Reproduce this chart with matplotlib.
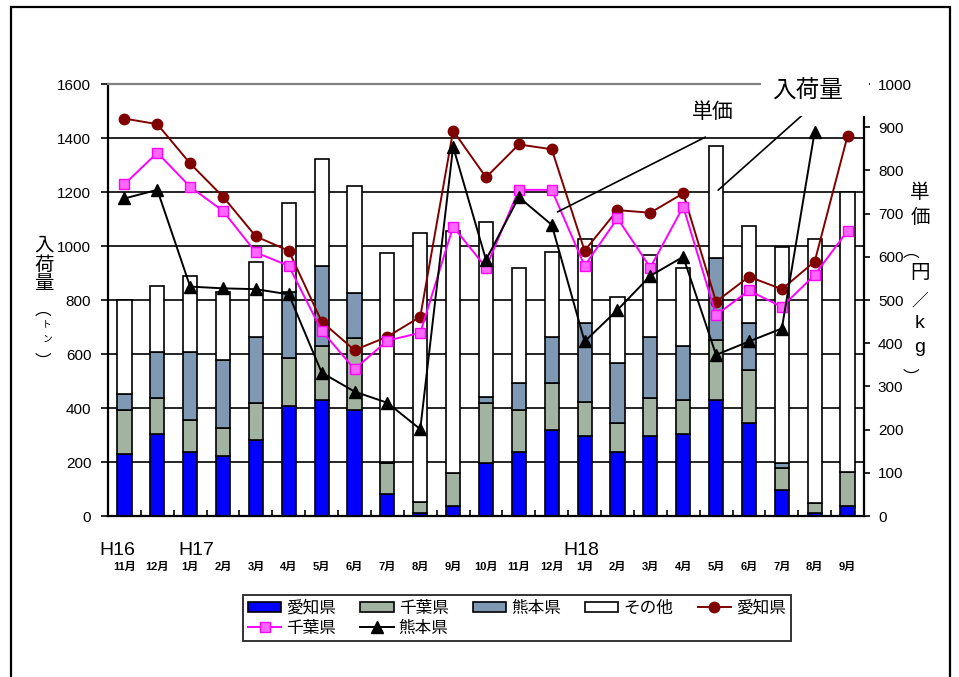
import numpy as np
import matplotlib
matplotlib.use('Agg')
import matplotlib.pyplot as plt
from matplotlib.patches import Rectangle

plt.rcParams['font.family'] = ['Liberation Sans', 'Noto Sans CJK JP', 'DejaVu Sans']

# months H16.11 - H18.9
months = ['11月', '12月', '1月', '2月', '3月', '4月', '5月', '6月', '7月', '8月', '9月',
          '10月', '11月', '12月', '1月', '2月', '3月', '4月', '5月', '6月', '7月', '8月', '9月']
years = ['H16', 'H17', 'H18']
year_pos = [-0.23, 2.18, 13.89]

# 入荷量 (トン)
aichi_q = [230, 304, 236, 222, 281, 407, 430, 393, 81, 10, 38,
           195, 236, 319, 298, 236, 298, 304, 430, 343, 96, 10, 38]
chiba_q = [163, 132, 120, 105, 136, 179, 201, 268, 117, 43, 120,
           222, 157, 172, 125, 107, 140, 126, 222, 198, 81, 37, 126]
kuma_q = [59, 173, 253, 251, 245, 245, 296, 164, 2, 0, 0,
          23, 98, 171, 290, 222, 224, 201, 305, 172, 18, 0, 0]
other_q = [348, 243, 281, 252, 280, 327, 394, 398, 773, 994, 898,
           650, 429, 317, 312, 245, 305, 289, 415, 362, 800, 978, 1037]

# 単価 (円/kg)
aichi_p = [920, 907, 816, 739, 647, 614, 450, 384, 415, 461, 892,
           784, 860, 849, 614, 708, 702, 747, 496, 554, 525, 589, 880]
chiba_p = [768, 841, 762, 706, 610, 579, 429, 340, 406, 424, 670,
           575, 755, 755, 579, 689, 575, 716, 465, 522, 484, 558, 660]
kuma_p = [735, 755, 531, 527, 525, 513, 332, 288, 262, 201, 855,
          593, 738, 674, 404, 477, 556, 600, 373, 404, 434, 890, np.nan]

x = np.arange(len(months))

fig = plt.figure(figsize=(9.59, 6.77), dpi=100)
ax = fig.add_axes([108/959, 1-516/677, 756/959, 432/677])
ax2 = ax.twinx()
ax.set_zorder(1)
ax2.set_zorder(2)
ax.patch.set_visible(False)

# gridlines (left axis)
for v in range(200, 1600, 200):
    ax.axhline(v, color='black', lw=1.2, zorder=0)

w = 0.43
ec = 'black'
b1 = ax.bar(x, aichi_q, w, color='#0000FF', edgecolor=ec, lw=1.2, zorder=2)
bot = np.array(aichi_q)
b2 = ax.bar(x, chiba_q, w, bottom=bot, color='#A3B3A1', edgecolor=ec, lw=1.2, zorder=2)
bot = bot + np.array(chiba_q)
b3 = ax.bar(x, kuma_q, w, bottom=bot, color='#7F98B3', edgecolor=ec, lw=1.2, zorder=2)
bot = bot + np.array(kuma_q)
b4 = ax.bar(x, other_q, w, bottom=bot, color='white', edgecolor=ec, lw=1.2, zorder=2)

l1, = ax2.plot(x, aichi_p, color='#800000', lw=1.4, marker='o', ms=7.5,
               mfc='#800000', mec='#800000')
l2, = ax2.plot(x, chiba_p, color='#FF00FF', lw=1.4, marker='s', ms=7.5,
               mfc='#FF66FF', mec='#FF00FF')
l3, = ax2.plot(x, kuma_p, color='black', lw=1.4, marker='^', ms=8,
               mfc='black', mec='black')

ax.set_xlim(-0.5, len(months) - 0.5)
ax.set_ylim(0, 1600)
ax2.set_ylim(0, 1000)
ax.set_yticks(range(0, 1601, 200))
ax2.set_yticks(range(0, 1001, 100))
ax.tick_params(axis='y', direction='out', length=5, width=1.2, labelsize=11, pad=7)
ax2.tick_params(axis='y', direction='out', length=4, width=1.2, labelsize=11, pad=6)

ax.set_xticks(x)
ax.set_xticklabels([])
ax.tick_params(axis='x', which='major', length=0)
ax.set_xticks(np.arange(-0.5, len(months)), minor=True)
ax.tick_params(axis='x', which='minor', direction='in', length=4, width=1.2)
ax2.tick_params(axis='x', length=0)

for s in ['left', 'bottom']:
    ax.spines[s].set_linewidth(1.6)
ax.spines['top'].set_color('#808080')
ax.spines['top'].set_linewidth(1.6)
ax.spines['right'].set_visible(False)
ax2.spines['right'].set_linewidth(1.6)
ax2.spines['top'].set_visible(False)
ax2.spines['left'].set_visible(False)
ax2.spines['bottom'].set_visible(False)

# month labels and year labels
for i, m in enumerate(months):
    ax.text(i, -0.118, m, transform=ax.get_xaxis_transform(), ha='center', va='center',
            fontsize=8, fontweight='bold')
for yl, p in zip(years, year_pos):
    ax.text(p, -0.08, yl, transform=ax.get_xaxis_transform(), ha='center', va='center',
            fontsize=14)

# vertical axis titles
def vtext(px, py, s, size):
    fig.text(px/959, 1-py/677, s, ha='center', va='center', fontsize=size)

vtext(44, 246, '入', 14)
vtext(44, 266, '荷', 14)
vtext(44, 285, '量', 14)
vtext(43, 310, '︵', 12)
vtext(47, 324, 'ト', 7)
vtext(47, 339, 'ン', 7)
vtext(43, 362, '︶', 12)

vtext(920, 193, '単', 14)
vtext(920, 218, '価', 14)
vtext(911, 252, '︵', 12)
vtext(920, 274, '円', 14)
vtext(920, 301, '／', 12)
vtext(920, 324, 'k', 14)
vtext(920, 348, 'g', 14)
vtext(911, 378, '︶', 12)

# callouts
ax2.annotate('', xy=(13.1, 701), xytext=(17.75, 880),
             arrowprops=dict(arrowstyle='-', color='black', lw=1.2), annotation_clip=False)
ax2.text(17.9, 936, '単価', ha='center', va='center', fontsize=15)
ax.annotate('', xy=(18.0, 1200), xytext=(20.7, 1493),
            arrowprops=dict(arrowstyle='-', color='black', lw=1.2), annotation_clip=False)
fig.add_artist(Rectangle((761/959, 1-116/677), 108/959, 44/677, transform=fig.transFigure,
                         facecolor='white', edgecolor='none', zorder=5))
fig.text(808/959, 1-92/677, '入荷量', ha='center', va='center', fontsize=17, zorder=6)

# outer frame
fig.add_artist(Rectangle((11/959, -0.05), 939/959, 1.05 - 7/677, transform=fig.transFigure,
                         facecolor='none', edgecolor='black', lw=1.6, zorder=10))

# legend is filled column by column; order so rows read left to right
handles = [b1, l2, b2, l3, b3, b4, l1]
labels = ['愛知県', '千葉県', '千葉県', '熊本県', '熊本県', 'その他', '愛知県']
leg = fig.legend(handles, labels, ncol=5, loc='upper left',
                 bbox_to_anchor=(243/959, 1-595/677), fontsize=12,
                 frameon=True, fancybox=False, edgecolor='black',
                 handlelength=2.0, handleheight=0.6, columnspacing=1.45, labelspacing=0.3,
                 borderpad=0.3, handletextpad=0.3, borderaxespad=0)
leg.get_frame().set_linewidth(1.4)

fig.savefig('out.png', dpi=100)
